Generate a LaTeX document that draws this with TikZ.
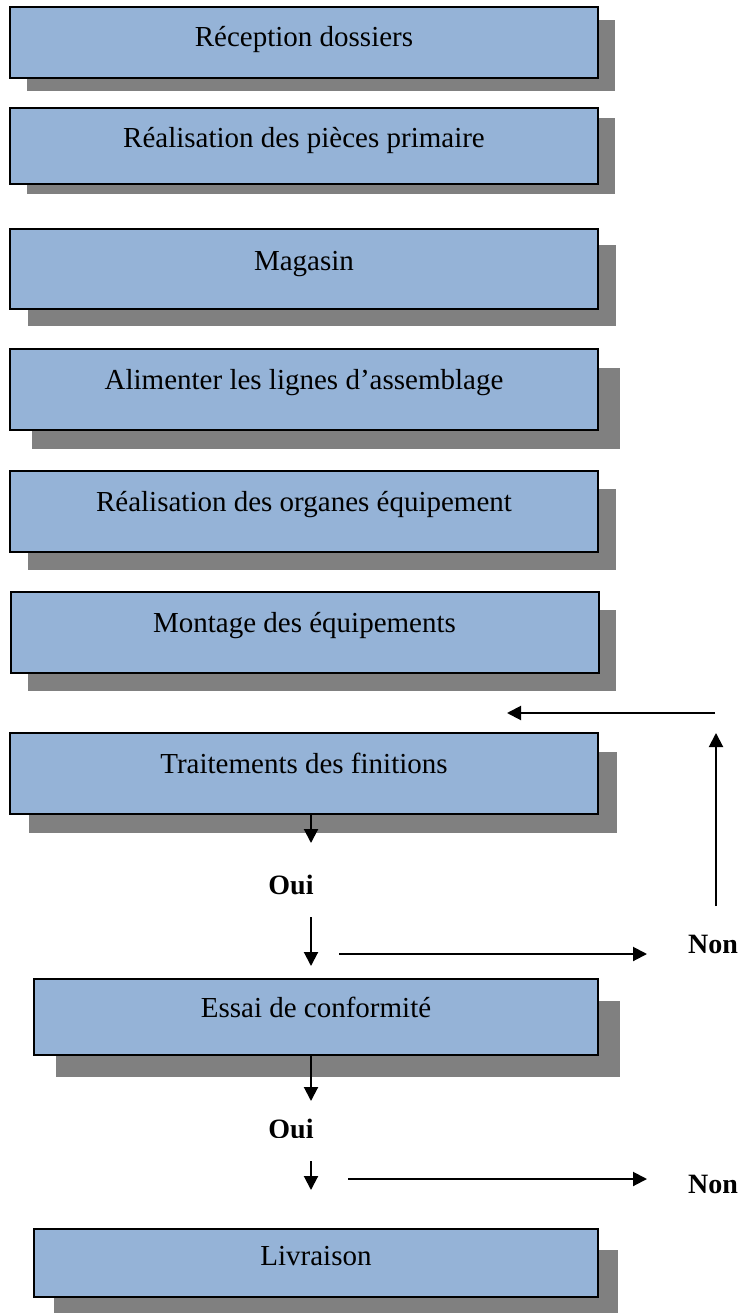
\documentclass[tikz,border=0pt]{standalone}
\usepackage{fontspec}
\setmainfont{Liberation Serif}
\usetikzlibrary{arrows.meta,shadows}

\definecolor{boxblue}{HTML}{95B3D7}
\definecolor{shadowgray}{HTML}{808080}

\tikzset{
  stagebox/.style={draw=black, line width=2pt, fill=boxblue, rectangle,
    inner sep=0pt, minimum width=588pt, text height=10pt, text depth=10pt,
    font=\fontsize{29}{34}\selectfont},
  boxshadow/.style n args={2}{general shadow={shadow xshift=#1pt, shadow yshift=-#2pt,
    fill=shadowgray, opacity=1}},
  flow/.style={line width=2pt, -{Triangle[length=14pt,width=14pt]}},
  answer/.style={font=\fontsize{28}{32}\selectfont\bfseries, inner sep=0pt, anchor=base},
}

\begin{document}
\begin{tikzpicture}[x=1pt, y=-1pt]
\useasboundingbox (0,0) rectangle (743,1313);

% process stages
\node[stagebox, boxshadow={17}{13.5}, minimum height=71pt, text height=18pt] (b1) at (304,42.5) {Réception dossiers};
\node[stagebox, boxshadow={17}{10.5}, minimum height=76pt, text height=14pt] (b2) at (304,146) {Réalisation des pièces primaire};
\node[stagebox, boxshadow={18}{16.5}, minimum height=80pt, text height=14pt] (b3) at (304,269) {Magasin};
\node[stagebox, boxshadow={22}{19}, minimum height=81pt] (b4) at (304,389.5) {Alimenter les lignes d’assemblage};
\node[stagebox, boxshadow={18}{18}, minimum height=81pt] (b5) at (304,511.5) {Réalisation des organes équipement};
\node[stagebox, boxshadow={17.5}{18}, minimum height=81pt] (b6) at (304.5,632.5) {Montage des équipements};
\node[stagebox, boxshadow={19}{18.5}, minimum height=81pt] (b7) at (304,773.5) {Traitements des finitions};
\node[stagebox, boxshadow={22}{21.5}, minimum width=564pt, minimum height=76pt] (b8) at (316,1017) {Essai de conformité};
\node[stagebox, boxshadow={19.5}{21}, minimum width=564pt, minimum height=68pt, text height=14pt] (b9) at (316,1263) {Livraison};

% decision labels
\node[answer] (oui1) at (291,894) {Oui};
\begin{scope}
  \clip (250,1100) rectangle (340,1137);
  \node[answer] (oui2) at (291,1138) {Oui};
\end{scope}
\node[answer, anchor=base west] (non1) at (688,953) {Non};
\node[answer, anchor=base west] (non2) at (688,1193) {Non};

% connector end points
\coordinate (d1) at (311,843);
\coordinate (d2s) at (311,917);
\coordinate (d2) at (311,966);
\coordinate (h1s) at (339,954);
\coordinate (h1) at (647,954);
\coordinate (r1) at (716,906);
\coordinate (r2) at (716,733);
\coordinate (r3) at (715,713);
\coordinate (r4) at (507,713);
\coordinate (d3) at (311,1101);
\coordinate (d4s) at (311,1161);
\coordinate (d4) at (311,1190);
\coordinate (h2s) at (348,1179);
\coordinate (h2) at (647,1179);

% connectors
\draw[flow] (b7.south -| d1) -- (d1);
\draw[flow] (d2s) -- (d2);
\draw[flow] (h1s) -- (h1);
\draw[flow] (r1) -- (r2);
\draw[flow] (r3) -- (r4);
\draw[flow] (b8.south -| d3) -- (d3);
\draw[flow] (d4s) -- (d4);
\draw[flow] (h2s) -- (h2);
\end{tikzpicture}
\end{document}
